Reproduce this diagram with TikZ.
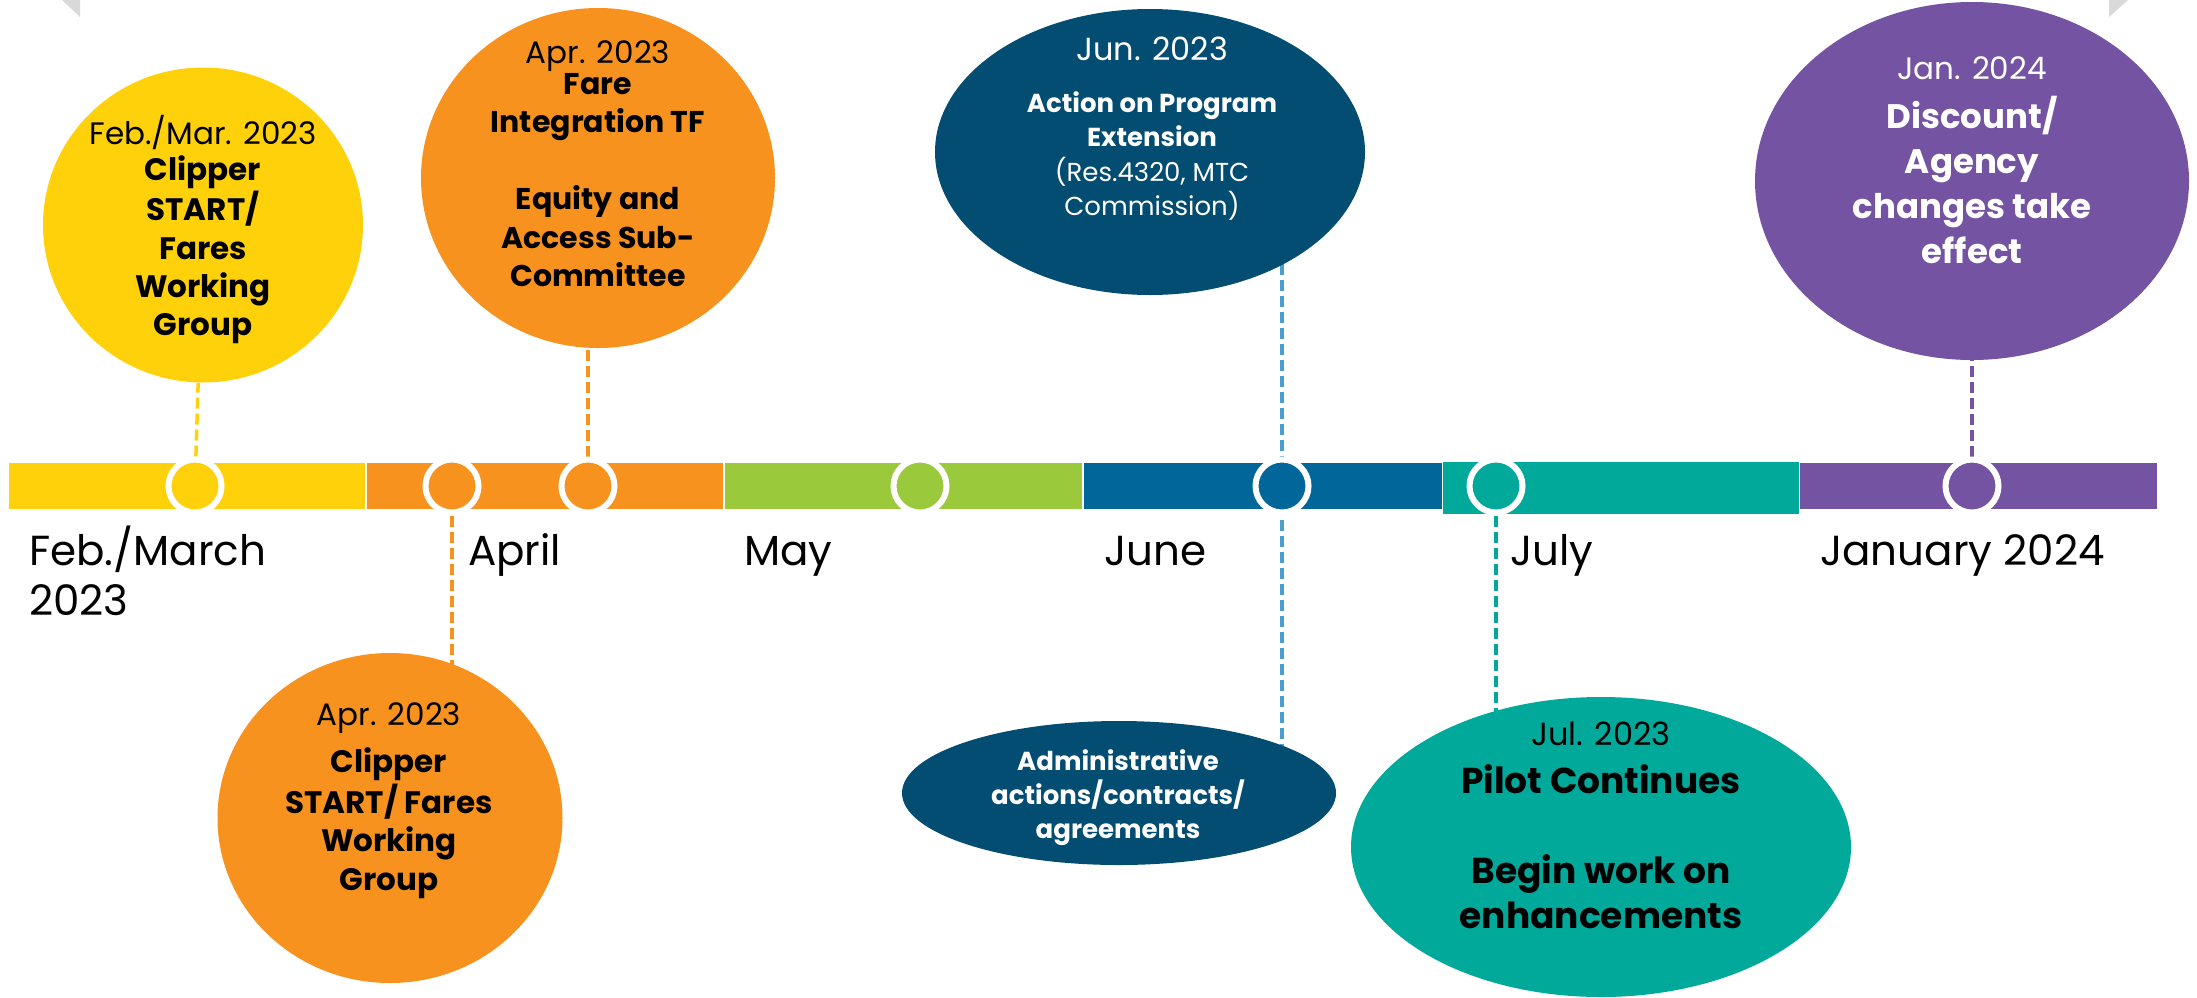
\documentclass[tikz,border=0pt]{standalone}
\usepackage{fontspec}
\setmainfont{Poppins}
\usetikzlibrary{shapes.geometric,backgrounds}
\definecolor{cYel}{HTML}{FED10A}
\definecolor{cOra}{HTML}{F7921E}
\definecolor{cGrn}{HTML}{9ACA3C}
\definecolor{cBlu}{HTML}{016699}
\definecolor{cTeal}{HTML}{00A99A}
\definecolor{cPur}{HTML}{7353A2}
\definecolor{cNavy}{HTML}{034D72}
\definecolor{cLBlue}{HTML}{4B9FCF}
\definecolor{cGrey}{HTML}{D9D9D9}
\begin{document}
\begin{tikzpicture}[x=1pt,y=-1pt,
  blob/.style={ellipse, inner sep=0pt, draw=none},
  dot/.style={circle, minimum size=53pt, inner sep=0pt, draw=white, line width=6pt},
  conn/.style={line width=3.5pt, dash pattern=on 11pt off 5pt},
  datetxt/.style={anchor=base, inner sep=0pt},
  bodytxt/.style={anchor=base, inner sep=0pt},
  month/.style={anchor=base west, inner sep=0pt, font=\fontsize{42}{50}\selectfont}]
\useasboundingbox (0,0) rectangle (2197,997);

% grey corner marks
\fill[cGrey] (62,0) -- (80,0) -- (80,17) -- cycle;
\fill[cGrey] (2109,0) -- (2128,0) -- (2109,17) -- cycle;

% timeline bar
\fill[cYel]  (9,463)    rectangle (365,509);
\fill[cOra]  (367,463)  rectangle (723,509);
\fill[cGrn]  (725,463)  rectangle (1082,509);
\fill[cBlu]  (1084,463) rectangle (1442,509);
\fill[cTeal] (1443,462) rectangle (1799,514);
\fill[cPur]  (1800,463) rectangle (2157,509);

% dots on the bar
\node[dot, fill=cYel]  (dY)  at (195,486) {};
\node[dot, fill=cOra]  (dO1) at (452,486) {};
\node[dot, fill=cOra]  (dO2) at (588,486) {};
\node[dot, fill=cGrn]  (dG)  at (920,486) {};
\node[dot, fill=cBlu]  (dB)  at (1282,486) {};
\node[dot, fill=cTeal] (dT)  at (1496,486) {};
\node[dot, fill=cPur]  (dP)  at (1972,486) {};

% month labels
\node[month] (mFeb) at (29,565) {\begin{tabular}[t]{@{}l@{}}Feb./March\\2023\end{tabular}};
\node[month] (mApr) at (468,565) {April};
\node[month] (mMay) at (744,565) {May};
\node[month] (mJun) at (1104,565) {June};
\node[month] (mJul) at (1510,565) {July};
\node[month] (mJan) at (1820,565) {January 2024};

% event shapes
\node[blob, fill=cYel, minimum width=320pt, minimum height=315pt] (yc) at (203,225) {};
\node[blob, fill=cOra, minimum width=354pt, minimum height=340pt] (oc) at (598,178) {};
\node[blob, fill=cNavy, minimum width=430pt, minimum height=286pt] (jun) at (1150,152) {};
\node[blob, fill=cPur, minimum width=434pt, minimum height=358pt] (jan) at (1972,181) {};
\node[blob, fill=cOra, minimum width=345pt, minimum height=330pt] (ob) at (390,818) {};
\node[blob, fill=cNavy, minimum width=434pt, minimum height=144pt] (adm) at (1119,793) {};
\node[blob, fill=cTeal, minimum width=500pt, minimum height=300pt] (tl) at (1601,847) {};

% texts: yellow
\node[datetxt, font=\fontsize{31}{38}\selectfont] (yDate) at (203,144) {Feb./Mar. 2023};
\node[bodytxt, font=\bfseries\fontsize{31}{38.3}\selectfont] (yBody) at (203,180)
  {\begin{tabular}[t]{@{}c@{}}Clipper\\START/\\Fares\\Working\\Group\end{tabular}};
% top orange
\node[datetxt, font=\fontsize{31}{38}\selectfont] (oDate) at (598,63) {Apr. 2023};
\node[bodytxt, font=\bfseries\fontsize{30}{38.5}\selectfont] (oBody) at (598,94)
  {\begin{tabular}[t]{@{}c@{}}Fare\\Integration TF\\ \\Equity and\\Access Sub-\\Committee\end{tabular}};
% June
\node[datetxt, text=white, font=\fontsize{32}{38}\selectfont] (jDate) at (1152,60) {Jun. 2023};
\node[bodytxt, text=white, font=\fontsize{26}{34.5}\selectfont] (jBody) at (1152,112)
  {\begin{tabular}[t]{@{}c@{}}\textbf{Action on Program}\\\textbf{Extension}\\(Res.4320, MTC\\Commission)\end{tabular}};
% January
\node[datetxt, text=white, font=\fontsize{31}{38}\selectfont] (pDate) at (1972,79) {Jan. 2024};
\node[bodytxt, text=white, font=\bfseries\fontsize{34}{45}\selectfont] (pBody) at (1972,128)
  {\begin{tabular}[t]{@{}c@{}}Discount/\\Agency\\changes take\\effect\end{tabular}};
% bottom orange
\node[datetxt, font=\fontsize{31}{38}\selectfont] (bDate) at (389,725) {Apr. 2023};
\node[bodytxt, font=\bfseries\fontsize{31}{38.5}\selectfont] (bBody) at (389,772)
  {\begin{tabular}[t]{@{}c@{}}Clipper\\START/ Fares\\Working\\Group\end{tabular}};
% administrative
\node[bodytxt, text=white, font=\bfseries\fontsize{26}{34}\selectfont] (aBody) at (1118,770)
  {\begin{tabular}[t]{@{}c@{}}Administrative\\actions/contracts/\\agreements\end{tabular}};
% July
\node[datetxt, font=\fontsize{32}{38}\selectfont] (tDate) at (1601,745) {Jul. 2023};
\node[bodytxt, font=\bfseries\fontsize{36}{45}\selectfont] (tBody) at (1601,793)
  {\begin{tabular}[t]{@{}c@{}}Pilot Continues\\ \\Begin work on\\enhancements\end{tabular}};

% dashed connectors
\begin{scope}[on background layer]
\draw[conn, cYel] (dY) -- (yc);
\draw[conn, cOra] (dO2) -- (dO2 |- oc);
\draw[conn, cOra] (dO1) -- (dO1 |- ob);
\draw[conn, cLBlue] (dB |- jun) -- (dB |- adm);
\draw[conn, cTeal] (dT) -- (dT |- tl);
\draw[conn, cPur] (dP) -- (dP |- jan);
\end{scope}
\end{tikzpicture}
\end{document}
